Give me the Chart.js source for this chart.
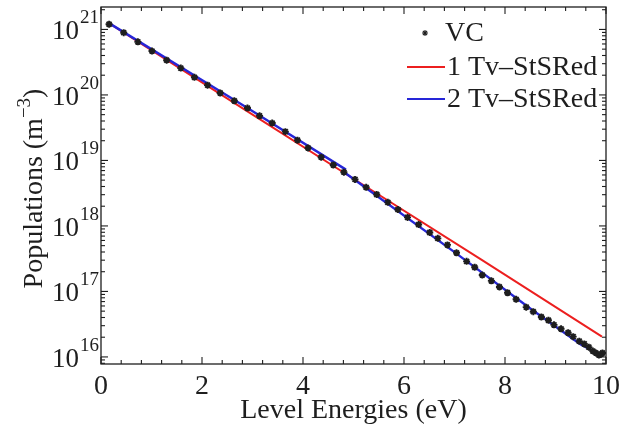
<!DOCTYPE html>
<html>
<head>
<meta charset="utf-8">
<script src="https://cdn.jsdelivr.net/npm/chart.js@4.4.1/dist/chart.umd.min.js"></script>
<style>
html, body { margin: 0; padding: 0; background: #fff; }
#wrap { width: 623px; height: 427px; }
</style>
</head>
<body>
<div id="wrap"><canvas id="chart" width="623" height="427"></canvas></div>
<script>
// VC level populations (eV, m^-3)
const vcEnergy = [0.16, 0.45, 0.73, 1.01, 1.30, 1.58, 1.85, 2.11, 2.36, 2.64,
    2.90, 3.14, 3.39, 3.65, 3.89, 4.10, 4.36, 4.60, 4.81, 5.03,
    5.25, 5.46, 5.68, 5.88, 6.07, 6.29, 6.51, 6.67, 6.86, 7.04,
    7.24, 7.40, 7.55, 7.73, 7.89, 8.05, 8.22, 8.42, 8.56, 8.72,
    8.86, 8.97, 9.11, 9.25, 9.35, 9.47, 9.57, 9.66, 9.74, 9.80,
    9.86, 9.90, 9.93];
const vcPop = [1.20e21, 8.91e20, 6.46e20, 4.68e20, 3.39e20, 2.57e20, 1.86e20, 1.41e20, 1.07e20, 8.13e19,
    6.31e19, 4.79e19, 3.72e19, 2.75e19, 2.04e19, 1.55e19, 1.12e19, 8.51e18, 6.61e18, 5.13e18,
    3.89e18, 3.02e18, 2.29e18, 1.78e18, 1.35e18, 1.05e18, 7.94e17, 6.46e17, 5.13e17, 3.89e17,
    2.88e17, 2.34e17, 1.78e17, 1.45e17, 1.17e17, 9.55e16, 7.59e16, 5.75e16, 4.90e16, 4.07e16,
    3.63e16, 3.09e16, 2.69e16, 2.34e16, 2.04e16, 1.74e16, 1.58e16, 1.41e16, 1.23e16, 1.15e16,
    1.07e16, 1.10e16, 1.15e16];

// 1 Tv reduced model
const oneTvEnergy = [0.15, 2.90, 5.00, 7.50, 9.92];
const oneTvPop = [1.26e21, 5.62e19, 5.25e18, 3.16e17, 2.04e16];

// 2 Tv reduced model, null breaks the line between the two groups
const twoTvEnergy = [0.15, 2.90, 4.85, 4.85, 4.85, 7.00, 8.50, 9.50, 9.90];
const twoTvPop = [1.26e21, 6.31e19, 7.24e18, null, 6.31e18, 3.98e17, 5.50e16, 1.55e16, 1.07e16];

const xTickLabels = ['0', '2', '4', '6', '8', '10'];
const yDecades = [16, 17, 18, 19, 20, 21];
const legendLabels = ['VC', '1 Tv\u2013StSRed', '2 Tv\u2013StSRed'];

const FONT = '"Liberation Serif", "Times New Roman", serif';
const INK = '#1e1e1e';
const RED = '#ec1f1f';
const BLUE = '#2626d8';

function toPoints(xs, ys) {
    return xs.map((v, i) => ({ x: v, y: ys[i] }));
}

// box with inward ticks, tick labels, titles and legend (matlab look)
const axesPlugin = {
    id: 'matlabAxes',
    afterDraw(chart) {
        const { ctx, chartArea: a, scales: { x, y } } = chart;
        ctx.save();
        ctx.strokeStyle = INK;
        ctx.lineWidth = 1.3;
        ctx.strokeRect(a.left, a.top, a.right - a.left, a.bottom - a.top);

        const seg = (x1, y1, x2, y2) => {
            ctx.beginPath(); ctx.moveTo(x1, y1); ctx.lineTo(x2, y2); ctx.stroke();
        };

        // x ticks every 0.4 eV, major every 2 eV
        ctx.lineWidth = 1.1;
        for (let i = 0; i <= 25; i++) {
            const px = x.getPixelForValue(i * 0.4);
            const len = i % 5 === 0 ? 7 : 4;
            seg(px, a.bottom, px, a.bottom - len);
            seg(px, a.top, px, a.top + len);
        }
        // log y ticks
        for (let d = 15; d <= 21; d++) {
            for (let m = 1; m <= 9; m++) {
                const v = m * Math.pow(10, d);
                if (v < y.min || v > y.max) continue;
                const py = y.getPixelForValue(v);
                const len = m === 1 ? 7 : 4;
                seg(a.left, py, a.left + len, py);
                seg(a.right, py, a.right - len, py);
            }
        }

        ctx.fillStyle = INK;
        // x tick labels
        ctx.font = '28px ' + FONT;
        ctx.textAlign = 'center';
        ctx.textBaseline = 'alphabetic';
        xTickLabels.forEach(t => {
            ctx.fillText(t, x.getPixelForValue(Number(t)), a.bottom + 30);
        });
        // y tick labels 10^n
        yDecades.forEach(d => {
            const py = y.getPixelForValue(Math.pow(10, d));
            ctx.font = '27px ' + FONT;
            ctx.textAlign = 'right';
            ctx.fillText('10', a.left - 22, py + 10);
            ctx.font = '19px ' + FONT;
            ctx.textAlign = 'left';
            ctx.fillText(String(d), a.left - 21, py - 6);
        });

        // x title
        ctx.font = '28px ' + FONT;
        ctx.textAlign = 'center';
        ctx.fillText('Level Energies (eV)', (a.left + a.right) / 2, a.bottom + 54);

        // y title with superscript
        ctx.save();
        ctx.translate(42, (a.top + a.bottom) / 2 + 3);
        ctx.rotate(-Math.PI / 2);
        ctx.textAlign = 'left';
        const mainA = 'Populations (m', sup = '\u22123', mainB = ')';
        ctx.font = '28px ' + FONT;
        const wA = ctx.measureText(mainA).width, wB = ctx.measureText(mainB).width;
        ctx.font = '19px ' + FONT;
        const wS = ctx.measureText(sup).width;
        let cx = -(wA + wS + wB) / 2;
        ctx.font = '28px ' + FONT;
        ctx.fillText(mainA, cx, 0);
        cx += wA;
        ctx.font = '19px ' + FONT;
        ctx.fillText(sup, cx, -12);
        cx += wS;
        ctx.font = '28px ' + FONT;
        ctx.fillText(mainB, cx, 0);
        ctx.restore();

        // legend
        const lx = a.right - 199;
        const rows = [a.top + 26, a.top + 60, a.top + 92];
        ctx.font = '28px ' + FONT;
        ctx.textAlign = 'left';
        ctx.textBaseline = 'middle';
        Chart.helpers.drawPoint(ctx, { pointStyle: 'star', radius: 3, borderWidth: 1.6, rotation: 0 }, lx + 18, rows[0]);
        ctx.fillText(legendLabels[0], lx + 38, rows[0] + 1);
        ctx.lineWidth = 2;
        ctx.strokeStyle = RED;
        seg(lx, rows[1], lx + 38, rows[1]);
        ctx.strokeStyle = BLUE;
        seg(lx, rows[2], lx + 38, rows[2]);
        ctx.fillText(legendLabels[1], lx + 40, rows[1] + 1);
        ctx.fillText(legendLabels[2], lx + 40, rows[2] + 1);
        ctx.restore();
    }
};

new Chart(document.getElementById('chart'), {
    type: 'scatter',
    data: {
        datasets: [
            {
                label: legendLabels[0],
                data: toPoints(vcEnergy, vcPop),
                pointStyle: 'star',
                pointRadius: 3.5,
                borderWidth: 1.9,
                borderColor: INK,
                backgroundColor: INK,
                showLine: false
            },
            {
                label: legendLabels[2],
                data: toPoints(twoTvEnergy, twoTvPop),
                showLine: true,
                spanGaps: false,
                borderColor: BLUE,
                borderWidth: 2.4,
                pointRadius: 0
            },
            {
                label: legendLabels[1],
                data: toPoints(oneTvEnergy, oneTvPop),
                showLine: true,
                borderColor: RED,
                borderWidth: 2,
                pointRadius: 0
            }
        ]
    },
    options: {
        responsive: false,
        animation: false,
        layout: { padding: { left: 101, right: 17, top: 7, bottom: 63 } },
        plugins: { legend: { display: false }, tooltip: { enabled: false } },
        scales: {
            x: { type: 'linear', min: 0, max: 10, display: false },
            y: { type: 'logarithmic', min: 7.8e15, max: 2.2e21, display: false }
        }
    },
    plugins: [axesPlugin]
});
</script>
</body>
</html>
